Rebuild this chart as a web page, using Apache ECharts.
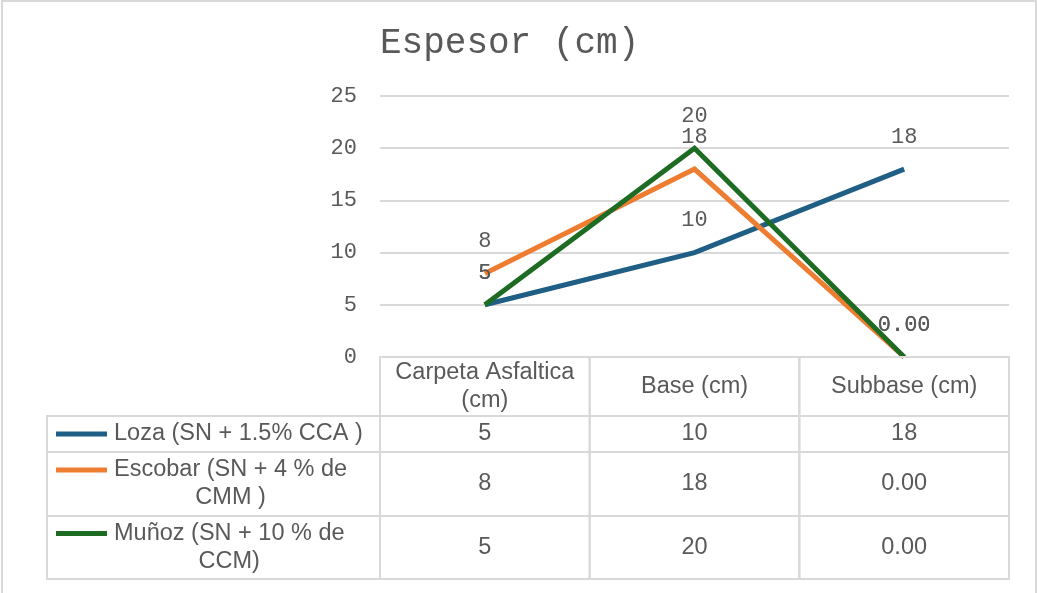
<!DOCTYPE html>
<html>
<head>
<meta charset="utf-8">
<title>Espesor (cm)</title>
<script src="https://cdn.jsdelivr.net/npm/echarts@6/dist/echarts.min.js"></script>
<style>
  html, body { margin: 0; padding: 0; background: #ffffff; }
  #chart { width: 1038px; height: 593px; }
</style>
</head>
<body>
<div id="chart"></div>
<script>
// ---- data ----
const categories = ['Carpeta Asfaltica (cm)', 'Base (cm)', 'Subbase (cm)'];
const seriesNames = ['Loza (SN + 1.5% CCA )', 'Escobar (SN + 4 % de CMM )', 'Muñoz (SN + 10 % de CCM)'];
const lozaValues = [5, 10, 18];
const escobarValues = [8, 18, 0];
const munozValues = [5, 20, 0];
const yMin = 0, yMax = 25, yStep = 5;

// ---- styling / layout ----
const colors = ['#1f5f86', '#ed7d31', '#1e6b24'];
const textColor = '#595959';
const ruleColor = '#d9d9d9';
const monoFont = '"Liberation Mono", "Courier New", monospace';
const sansFont = '"Liberation Sans", Arial, sans-serif';
const W = 1038, H = 593;
const gridLeft = 380, gridRight = 29, gridTop = 96, gridBottom = 236;
const headerH = 59;
const rowHeights = [36, 64, 63];
const tableLeft = 47;
const tableFontSize = 23.5;
const tableLineH = 28;

const allValues = [lozaValues, escobarValues, munozValues];
const fmt = v => (v === 0 ? '0.00' : String(v));

// greedy word wrap measured with a canvas context
const measureCtx = document.createElement('canvas').getContext('2d');
function wrapText(text, font, maxWidth) {
  measureCtx.font = font;
  const words = text.split(' ');
  const lines = [];
  let cur = '';
  words.forEach(w => {
    const t = cur ? cur + ' ' + w : w;
    if (cur && measureCtx.measureText(t).width > maxWidth) {
      lines.push(cur);
      cur = w;
    } else {
      cur = t;
    }
  });
  if (cur) lines.push(cur);
  const widths = lines.map(l => measureCtx.measureText(l).width);
  return { lines, maxW: Math.max.apply(null, widths) };
}

const chart = echarts.init(document.getElementById('chart'), null, { renderer: 'canvas' });

function buildTable() {
  const g = [];
  const plotW = W - gridLeft - gridRight;
  const colW = plotW / categories.length;
  const tableTop = H - gridBottom;
  const font = tableFontSize + 'px ' + sansFont;

  // outer frame of the chart area
  g.push({ type: 'rect', shape: { x: 2, y: 1, width: W - 4, height: H + 10 },
    style: { fill: null, stroke: ruleColor, lineWidth: 2 }, silent: true });

  // header cells
  categories.forEach((c, i) => {
    const x = gridLeft + i * colW;
    g.push({ type: 'rect', shape: { x, y: tableTop, width: colW, height: headerH },
      style: { fill: null, stroke: ruleColor, lineWidth: 2 }, z: 10 });
    const wr = wrapText(c, font, colW - 16);
    g.push({ type: 'text', z: 11, style: {
      text: wr.lines.join('\n'), x: x + colW / 2, y: tableTop + headerH / 2,
      align: 'center', verticalAlign: 'middle', fill: textColor,
      font, lineHeight: tableLineH } });
  });

  // body rows: legend key + values
  let y = tableTop + headerH;
  seriesNames.forEach((name, r) => {
    const h = rowHeights[r];
    g.push({ type: 'rect', shape: { x: tableLeft, y, width: gridLeft - tableLeft, height: h },
      style: { fill: null, stroke: ruleColor, lineWidth: 2 }, z: 10 });
    const wr = wrapText(name, font, 255);
    const firstLineY = y + h / 2 - (wr.lines.length - 1) * tableLineH / 2;
    g.push({ type: 'line', z: 11, shape: { x1: 56, y1: firstLineY, x2: 107, y2: firstLineY },
      style: { stroke: colors[r], lineWidth: 5 } });
    g.push({ type: 'text', z: 11, style: {
      text: wr.lines.join('\n'), x: 114 + wr.maxW / 2, y: y + h / 2,
      align: 'center', verticalAlign: 'middle', fill: textColor,
      font, lineHeight: tableLineH } });
    allValues[r].forEach((v, i) => {
      const x = gridLeft + i * colW;
      g.push({ type: 'rect', shape: { x, y, width: colW, height: h },
        style: { fill: null, stroke: ruleColor, lineWidth: 2 }, z: 10 });
      g.push({ type: 'text', z: 11, style: {
        text: fmt(v), x: x + colW / 2, y: y + h / 2,
        align: 'center', verticalAlign: 'middle', fill: textColor, font } });
    });
    y += h;
  });
  return g;
}

chart.setOption({
  animation: false,
  backgroundColor: '#ffffff',
  title: {
    text: 'Espesor (cm)', left: 375, top: 20,
    textStyle: { fontFamily: monoFont, fontSize: 36, fontWeight: 'normal', color: textColor }
  },
  grid: { left: gridLeft, right: gridRight, top: gridTop, bottom: gridBottom, containLabel: false },
  xAxis: {
    type: 'category', data: categories, boundaryGap: true,
    axisLine: { show: false }, axisTick: { show: false }, axisLabel: { show: false },
    splitLine: { show: false }
  },
  yAxis: {
    type: 'value', min: yMin, max: yMax, interval: yStep,
    axisLine: { show: false }, axisTick: { show: false },
    axisLabel: { color: textColor, fontFamily: monoFont, fontSize: 22, margin: 23 },
    splitLine: { lineStyle: { color: ruleColor, width: 2 } }
  },
  series: seriesNames.map((name, i) => ({
    name, type: 'line', data: allValues[i],
    showSymbol: true, symbol: 'circle', symbolSize: 2,
    lineStyle: { color: colors[i], width: 5, cap: 'butt', join: 'miter' },
    itemStyle: { color: 'rgba(0,0,0,0)', borderWidth: 0 },
    label: {
      show: true, position: 'top', distance: 20,
      color: textColor, fontFamily: monoFont, fontSize: 22,
      formatter: p => fmt(p.value)
    },
    labelLayout: { hideOverlap: false },
    z: 3 + i
  })),
  graphic: buildTable()
});
</script>
</body>
</html>
